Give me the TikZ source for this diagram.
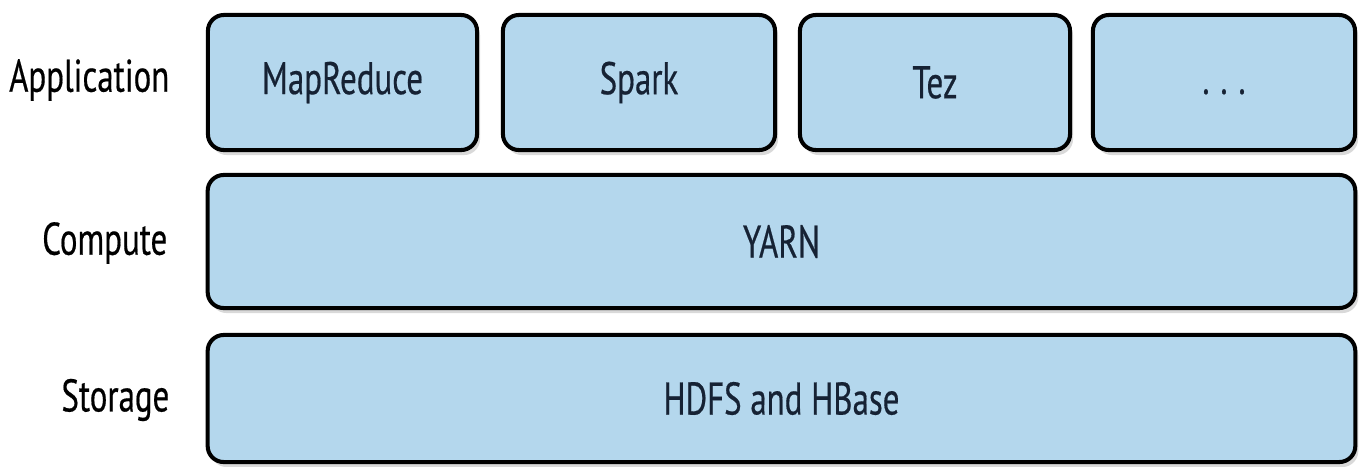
\documentclass[tikz,border=0pt]{standalone}
\usepackage{fontspec}
\setmainfont{PT Sans}[FakeStretch=0.72, FakeBold=0.4]
\usetikzlibrary{shadows}

\definecolor{layerblue}{RGB}{180,215,237}
\definecolor{layertext}{RGB}{22,34,52}

\tikzset{
    layer/.style={draw=black, line width=1.15pt, fill=layerblue, rounded corners=0.16cm,
        text=layertext, font=\fontsize{13}{15}\selectfont,
        drop shadow={opacity=0.3, shadow xshift=0.03cm, shadow yshift=-0.05cm}},
    tag/.style={anchor=east, inner sep=0pt, font=\fontsize{13}{15}\selectfont}
}

\begin{document}
\begin{tikzpicture}[x=0.01cm, y=-0.01cm]
        \useasboundingbox (0,0) rectangle (1359,466);
        % application row
        \node[layer, minimum width=2.69cm, minimum height=1.35cm] (mapreduce) at (342.5,82.5) {MapReduce};
        \node[layer, minimum width=2.72cm, minimum height=1.35cm] (spark) at (639,82.5) {Spark};
        \node[layer, minimum width=2.70cm, minimum height=1.35cm] (tez) at (935,82.5) {Tez};
        \node[layer, minimum width=2.62cm, minimum height=1.35cm] (others) at (1224,82.5) {\vphantom{Mp}.\hspace{0.11cm}.\hspace{0.11cm}.};
        % compute and storage
        \node[layer, minimum width=11.47cm, minimum height=1.33cm] (yarn) at (781.5,241.5) {YARN};
        \node[layer, minimum width=11.47cm, minimum height=1.27cm] (hdfs) at (781.5,398.5) {HDFS and HBase};
        % row names
        \node[tag] (application) at (170,80) {Application};
        \node[tag] (compute) at (168,243) {Compute};
        \node[tag] (storage) at (170,400) {Storage};
    \end{tikzpicture}
\end{document}
